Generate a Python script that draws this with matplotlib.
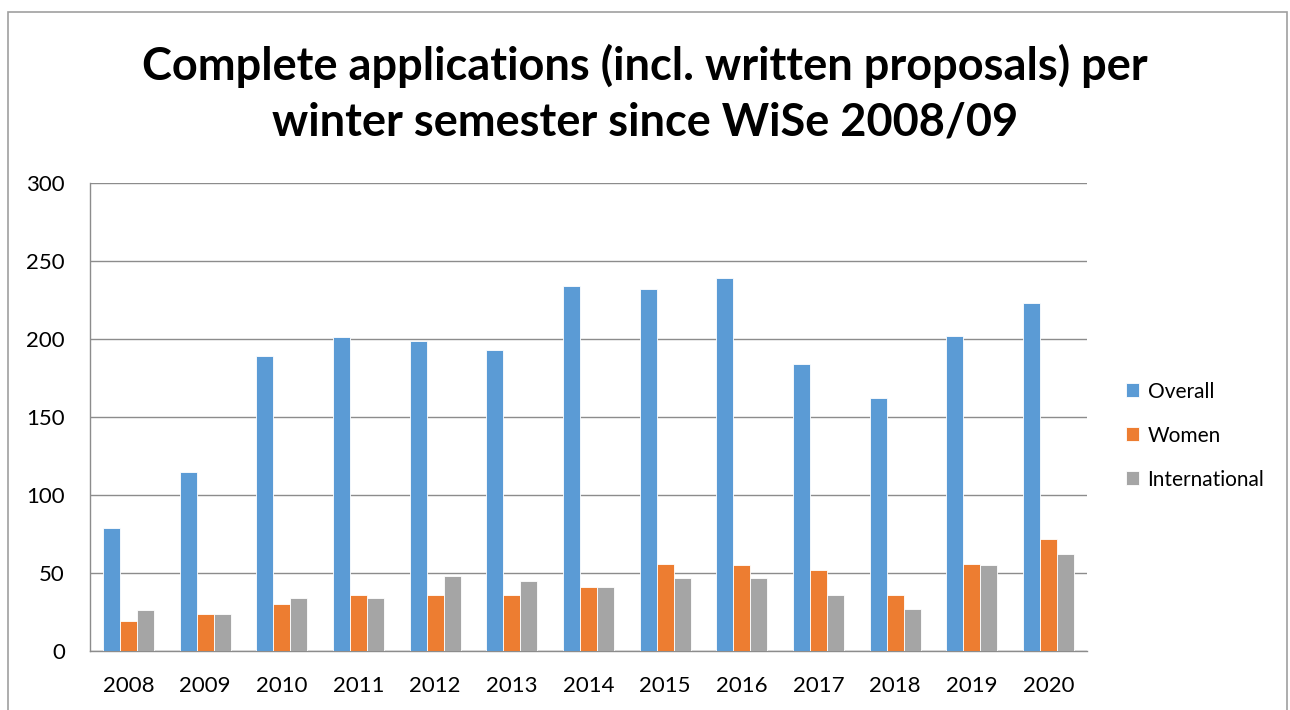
import numpy as np
import matplotlib
matplotlib.use('Agg')
import matplotlib.pyplot as plt
from matplotlib.patches import Rectangle

# data
years = ['2008', '2009', '2010', '2011', '2012', '2013', '2014',
         '2015', '2016', '2017', '2018', '2019', '2020']
overall = [79, 115, 189, 201, 199, 193, 234, 232, 239, 184, 162, 202, 223]
women = [19, 24, 30, 36, 36, 36, 41, 56, 55, 52, 36, 56, 72]
international = [26, 24, 34, 34, 48, 45, 41, 47, 47, 36, 27, 55, 62]
series = ['Overall', 'Women', 'International']
colors = ['#5B9BD5', '#ED7D31', '#A5A5A5']

plt.rcParams['font.family'] = ['Lato', 'DejaVu Sans']

fig = plt.figure(figsize=(12.9, 7.1), dpi=100)
ax = fig.add_axes([0.0698, 0.0831, 0.7728, 0.6592])

x = np.arange(len(years))
w = 0.222
for k, vals in enumerate([overall, women, international]):
    ax.bar(x + (k - 1) * w, vals, w, color=colors[k], edgecolor='white',
           linewidth=0.6, label=series[k], zorder=3)

ax.set_xlim(-0.5, len(years) - 0.5)
ax.set_ylim(0, 300)
ax.set_yticks(range(0, 301, 50))
ax.set_xticks(x)
ax.set_xticklabels(years)
ax.tick_params(length=0, labelsize=16, colors='black')
ax.tick_params(axis='x', pad=18)
ax.tick_params(axis='y', pad=18)
ax.grid(axis='y', color='#8c8c8c', linewidth=1, zorder=0)
for s in ['top', 'right']:
    ax.spines[s].set_visible(False)
for s in ['left', 'bottom']:
    ax.spines[s].set_color('#8c8c8c')
    ax.spines[s].set_linewidth(1)

fig.text(0.5, 0.907, 'Complete applications (incl. written proposals) per',
         ha='center', va='center', fontsize=32.5, fontweight='bold')
fig.text(0.5, 0.827, 'winter semester since WiSe 2008/09',
         ha='center', va='center', fontsize=32.5, fontweight='bold')

ax.legend(loc='center left', bbox_to_anchor=(1.02, 0.46), frameon=False,
          fontsize=15, handlelength=0.65, handleheight=0.65, handletextpad=0.4,
          labelspacing=1.15)

# outer chart border
fig.patches.append(Rectangle((0.006, -0.05), 0.992, 1.033, transform=fig.transFigure,
                             fill=False, edgecolor='#a0a0a0', linewidth=1.2))

fig.savefig('out.png', dpi=100)
